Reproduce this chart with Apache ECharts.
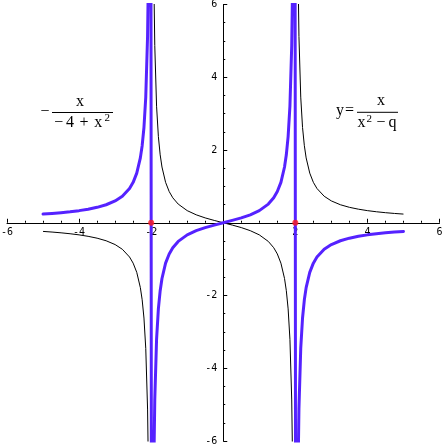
<!DOCTYPE html>
<html>
<head>
<meta charset="utf-8">
<script src="https://cdn.jsdelivr.net/npm/echarts@6/dist/echarts.min.js"></script>
<style>
html,body{margin:0;padding:0;background:#fff;}
#c{width:447px;height:447px;}
</style>
</head>
<body>
<div id="c"></div>
<script>
// sample x positions
const xs = [-5, -4.75, -4.5, -4.25, -4, -3.75, -3.5, -3.25, -3, -2.8, -2.6, -2.5, -2.4, -2.3, -2.25, -2.2, -2.15, -2.1, -2.07, -2.04, -2.02,
  -1.98, -1.96, -1.93, -1.9, -1.85, -1.8, -1.75, -1.7, -1.6, -1.5, -1.4, -1.25, -1, -0.75, -0.5, -0.25, 0,
  0.25, 0.5, 0.75, 1, 1.25, 1.4, 1.5, 1.6, 1.7, 1.75, 1.8, 1.85, 1.9, 1.93, 1.96, 1.98,
  2.02, 2.04, 2.07, 2.1, 2.15, 2.2, 2.25, 2.3, 2.4, 2.5, 2.6, 2.8, 3, 3.25, 3.5, 3.75, 4, 4.25, 4.5, 4.75, 5];
// thick blue curve: -x/(-4+x^2)
const blueY = [0.238, 0.256, 0.277, 0.302, 0.333, 0.373, 0.424, 0.495, 0.6, 0.729, 0.942, 1.111, 1.364, 1.783, 2.118, 2.619, 3.454, 5.122, 7.266, 12.62, 25.12,
  -24.87, -12.37, -7.016, -4.872, -3.204, -2.368, -1.867, -1.532, -1.111, -0.857, -0.686, -0.513, -0.333, -0.218, -0.133, -0.064, 0,
  0.064, 0.133, 0.218, 0.333, 0.513, 0.686, 0.857, 1.111, 1.532, 1.867, 2.368, 3.204, 4.872, 7.016, 12.37, 24.87,
  -25.12, -12.62, -7.266, -5.122, -3.454, -2.619, -2.118, -1.783, -1.364, -1.111, -0.942, -0.729, -0.6, -0.495, -0.424, -0.373, -0.333, -0.302, -0.277, -0.256, -0.238];
// thin black curve: y = x/(x^2-q)
const blackY = [-0.238, -0.256, -0.277, -0.302, -0.333, -0.373, -0.424, -0.495, -0.6, -0.729, -0.942, -1.111, -1.364, -1.783, -2.118, -2.619, -3.454, -5.122, -7.266, -12.62, -25.12,
  24.87, 12.37, 7.016, 4.872, 3.204, 2.368, 1.867, 1.532, 1.111, 0.857, 0.686, 0.513, 0.333, 0.218, 0.133, 0.064, 0,
  -0.064, -0.133, -0.218, -0.333, -0.513, -0.686, -0.857, -1.111, -1.532, -1.867, -2.368, -3.204, -4.872, -7.016, -12.37, -24.87,
  25.12, 12.62, 7.266, 5.122, 3.454, 2.619, 2.118, 1.783, 1.364, 1.111, 0.942, 0.729, 0.6, 0.495, 0.424, 0.373, 0.333, 0.302, 0.277, 0.256, 0.238];
// vertical asymptotes where the black curve is broken
const asymptotes = [-2, 2];
// red points on the x axis
const dotX = [-2, 2];
const dotY = [0, 0];
// axis ranges and tick step
const axisMin = -6, axisMax = 6, axisStep = 2;

const blueData = xs.map((x, i) => [x, blueY[i]]);
const blackData = [];
xs.forEach((x, i) => {
  blackData.push([x, blackY[i]]);
  if (i + 1 < xs.length && asymptotes.some(a => x < a && xs[i + 1] > a)) blackData.push([x, '-']);
});
const dotData = dotX.map((x, i) => [x, dotY[i]]);

const W = 447, H = 447;
const G = { left: 7, right: 7.5, top: 4.5, bottom: 6 };
const gw = W - G.left - G.right, gh = H - G.top - G.bottom;

const serif = '"Liberation Serif","DejaVu Serif",serif';
const black = '#000';
function txt(t, x, y, size, align) {
  return { type: 'text', x: x, y: y, z: 100, style: { text: t, font: size + 'px ' + serif, fill: black, align: align || 'center', verticalAlign: 'middle' } };
}
function bar(x1, x2, y) {
  return { type: 'line', z: 100, shape: { x1: x1, y1: y, x2: x2, y2: y }, style: { stroke: black, lineWidth: 1 } };
}

const tickFont = { fontSize: 10, fontFamily: '"DejaVu Sans Mono","Liberation Mono",monospace', color: black };
const labelFmt = v => (v === 0 ? '' : String(v));

const chart = echarts.init(document.getElementById('c'), null, { renderer: 'canvas' });
chart.setOption({
  animation: false,
  backgroundColor: '#fff',
  grid: { left: G.left, right: G.right, top: G.top, bottom: G.bottom, containLabel: false, outerBoundsMode: 'none' },
  xAxis: {
    type: 'value', min: axisMin, max: axisMax, interval: axisStep,
    position: 'bottom', offset: -gh / 2,
    axisLine: { onZero: false, lineStyle: { color: black, width: 1 } },
    axisTick: { show: true, inside: true, length: 4, lineStyle: { color: black } },
    minorTick: { show: true, splitNumber: 4, length: 2, lineStyle: { color: black } },
    splitLine: { show: false }, minorSplitLine: { show: false },
    axisLabel: Object.assign({ show: true, margin: 5, formatter: labelFmt, showMinLabel: true, showMaxLabel: true, hideOverlap: false }, tickFont)
  },
  yAxis: {
    type: 'value', min: axisMin, max: axisMax, interval: axisStep,
    position: 'left', offset: -gw / 2,
    axisLine: { onZero: false, lineStyle: { color: black, width: 1 } },
    axisTick: { show: true, inside: true, length: 4, lineStyle: { color: black } },
    minorTick: { show: true, splitNumber: 4, length: 2, lineStyle: { color: black } },
    splitLine: { show: false }, minorSplitLine: { show: false },
    axisLabel: Object.assign({ show: true, margin: 6, formatter: labelFmt, showMinLabel: true, showMaxLabel: true, hideOverlap: false }, tickFont)
  },
  series: [
    { type: 'line', data: blackData, showSymbol: false, symbol: 'none', connectNulls: false, clip: true,
      lineStyle: { color: black, width: 1 }, z: 2 },
    { type: 'line', data: blueData, showSymbol: false, symbol: 'none', clip: true,
      lineStyle: { color: '#5522ff', width: 3, join: 'round', cap: 'round' }, z: 3 },
    { type: 'scatter', data: dotData, symbol: 'circle', symbolSize: 6,
      itemStyle: { color: '#ff1a1a' }, z: 4 }
  ],
  graphic: [
    // left label: - x / (-4 + x^2)
    txt('\u2212', 45, 111.5, 16),
    txt('x', 80, 102, 16),
    bar(52, 113, 112.5),
    txt('\u2212', 58.8, 123, 16),
    txt('4', 70, 123, 16),
    txt('+', 84, 123, 16),
    txt('x', 98.3, 123, 16),
    txt('2', 107.3, 118.3, 11),
    // right label: y = x / (x^2 - q)
    txt('y', 340, 111, 16),
    txt('=', 349.5, 111, 16),
    txt('x', 381, 101, 16),
    bar(357, 398, 112.3),
    txt('x', 361.5, 122.3, 16),
    txt('2', 369.3, 119.5, 11),
    txt('\u2212', 381, 122.3, 16),
    txt('q', 392.5, 122.3, 16)
  ]
});
</script>
</body>
</html>
